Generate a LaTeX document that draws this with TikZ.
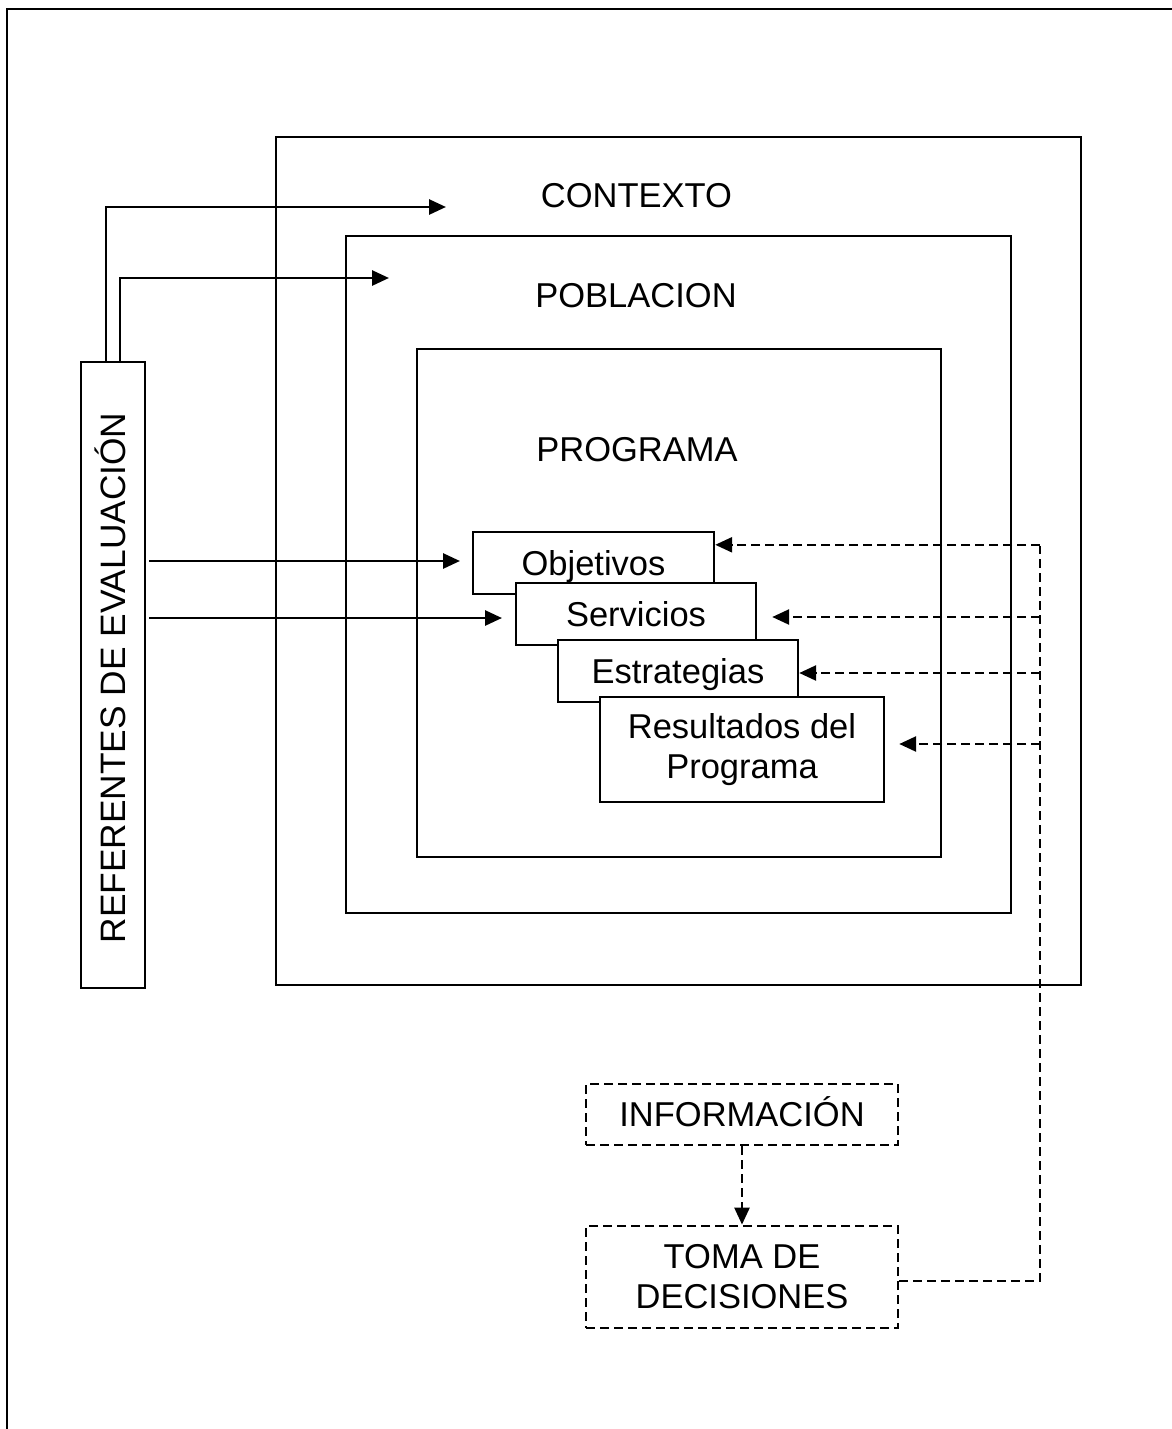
\documentclass[tikz,border=0pt]{standalone}
\usepackage{fontspec}
\setmainfont{Liberation Sans}
\usetikzlibrary{arrows.meta}
\tikzset{
  bigfont/.style={font=\fontsize{34.5}{40}\selectfont},
  boxed/.style={draw, line width=2.4pt, inner sep=0pt, fill=white},
  oneline/.style={text height=24.7pt, text depth=0pt},
  txt/.style={inner sep=0pt, bigfont, oneline},
  dbox/.style={boxed, line width=2.8pt, dash pattern=on 9pt off 5pt},
  arr/.style={line width=2.8pt, -{Triangle[length=17pt,width=15pt]}},
  darr/.style={line width=2.6pt, dash pattern=on 9pt off 5pt, -{Triangle[length=17pt,width=15pt]}},
  dline/.style={line width=2.6pt, dash pattern=on 9pt off 5pt}
}
\begin{document}
\begin{tikzpicture}[x=1pt,y=-1pt]
\useasboundingbox (0,0) rectangle (1172,1429);
% page frame (top and left edges)
\coordinate (fbl) at (7,1429);
\coordinate (ftl) at (7,9);
\coordinate (ftr) at (1172,9);
\draw[line width=2.8pt] (fbl) -- (ftl) -- (ftr);

% nested context boxes
\node[boxed, minimum width=805pt, minimum height=848pt] (ctx) at (678.5,561) {};
\node[boxed, minimum width=665pt, minimum height=677pt] (pob) at (678.5,574.5) {};
\node[boxed, minimum width=524pt, minimum height=508pt] (prg) at (679,603) {};
\node[txt] (ctxt) at (636.5,195) {CONTEXTO};
\node[txt] (pobt) at (636,295) {POBLACION};
\node[txt] (prgt) at (637,449.5) {PROGRAMA};

% referentes
\node[boxed, minimum width=64pt, minimum height=626pt] (ref) at (113,675) {};
\node[txt, rotate=90, font=\fontsize{35.3}{40}\selectfont] (reft) at (113.5,678) {REFERENTES DE EVALUACIÓN};

% stacked program boxes
\node[boxed, bigfont, oneline, minimum width=241pt, minimum height=62pt] (obj) at (593.5,563) {Objetivos};
\node[boxed, bigfont, oneline, minimum width=240pt, minimum height=62pt] (ser) at (636,614) {Servicios};
\node[boxed, bigfont, oneline, minimum width=240pt, minimum height=62pt] (est) at (678,671) {Estrategias};
\node[boxed, bigfont, align=center, minimum width=284pt, minimum height=105pt] (res) at (742,749.5) {\raisebox{-3pt}{Resultados del}\\\raisebox{-3pt}{Programa}};

% information and decisions
\node[dbox, bigfont, oneline, minimum width=312pt, minimum height=61pt] (info) at (742,1114.5) {INFORMACIÓN};
\node[dbox, bigfont, align=center, minimum width=312pt, minimum height=102pt] (toma) at (742,1277) {TOMA DE\\DECISIONES};

% solid arrows from referentes
\coordinate (c1) at (446,207);
\coordinate (c2) at (389,278);
\draw[arr] ([xshift=-7pt]ref.north) |- (c1);
\draw[arr] ([xshift=7pt]ref.north) |- (c2);
\coordinate (a3) at (460,561);
\coordinate (a4) at (502,618);
\draw[arr] ([xshift=3pt]ref.east |- a3) -- (a3);
\draw[arr] ([xshift=3pt]ref.east |- a4) -- (a4);

% dashed feedback
\coordinate (t1) at ([yshift=-14pt]obj.north east);
\coordinate (t2) at ([shift={(15pt,-3pt)}]ser.east);
\coordinate (t3) at ([yshift=-2pt]est.east);
\coordinate (t4) at ([shift={(14pt,5.5pt)}]res.east);
\coordinate (bus) at (1040,546);
\coordinate (tout) at ([yshift=-4pt]toma.east);
\draw[dline] (tout) -| (bus);
\draw[darr] (bus |- t1) -- (t1);
\draw[darr] (bus |- t2) -- (t2);
\draw[darr] (bus |- t3) -- (t3);
\draw[darr] (bus |- t4) -- (t4);
\draw[darr] (info.south) -- (toma.north);
\end{tikzpicture}
\end{document}
